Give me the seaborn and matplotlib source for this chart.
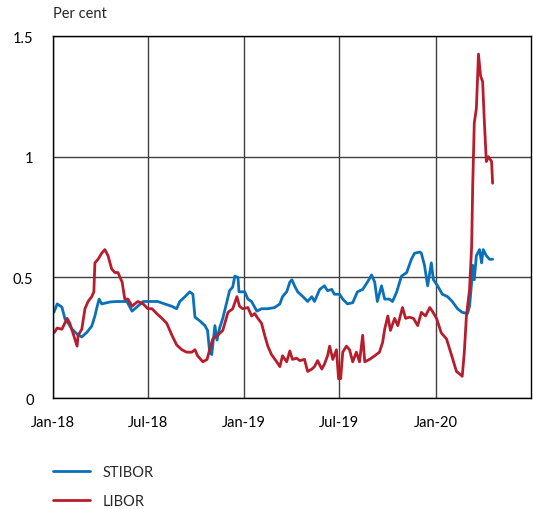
import pandas as pd
import matplotlib.pyplot as plt
import seaborn as sns

# values (per cent)
stibor_dates = [
    "2018-01-03", "2018-01-09", "2018-01-18", "2018-01-24", "2018-01-30", "2018-02-06",
    "2018-02-16", "2018-02-25", "2018-03-07", "2018-03-16", "2018-03-22", "2018-03-26",
    "2018-03-30", "2018-04-04", "2018-04-20", "2018-05-03", "2018-05-22", "2018-06-01",
    "2018-06-10", "2018-06-22", "2018-07-01", "2018-07-20", "2018-08-02", "2018-08-16",
    "2018-08-25", "2018-08-31", "2018-09-10", "2018-09-19", "2018-09-25", "2018-09-29",
    "2018-10-08", "2018-10-18", "2018-10-23", "2018-10-27", "2018-10-31", "2018-11-06",
    "2018-11-10", "2018-11-15", "2018-11-21", "2018-11-29", "2018-12-04", "2018-12-10",
    "2018-12-14", "2018-12-20", "2018-12-22", "2019-01-02", "2019-01-08", "2019-01-15",
    "2019-01-25", "2019-02-03", "2019-02-15", "2019-02-28", "2019-03-10", "2019-03-15",
    "2019-03-23", "2019-03-29", "2019-04-02", "2019-04-07", "2019-04-13", "2019-04-23",
    "2019-05-02", "2019-05-10", "2019-05-15", "2019-05-25", "2019-06-03", "2019-06-09",
    "2019-06-17", "2019-06-22", "2019-07-02", "2019-07-08", "2019-07-17", "2019-07-27",
    "2019-08-05", "2019-08-15", "2019-08-24", "2019-09-01", "2019-09-07", "2019-09-12",
    "2019-09-20", "2019-09-26", "2019-10-05", "2019-10-11", "2019-10-19", "2019-10-28",
    "2019-11-07", "2019-11-16", "2019-11-22", "2019-12-02", "2019-12-05", "2019-12-11",
    "2019-12-17", "2019-12-24", "2019-12-28", "2020-01-05", "2020-01-14", "2020-01-24",
    "2020-02-02", "2020-02-12", "2020-02-21", "2020-03-02", "2020-03-06", "2020-03-10",
    "2020-03-12", "2020-03-15", "2020-03-19", "2020-03-25", "2020-03-29", "2020-04-01",
    "2020-04-07", "2020-04-13", "2020-04-19",
]
stibor = [
    0.356, 0.39, 0.377, 0.327, 0.31, 0.286,
    0.265, 0.253, 0.273, 0.298, 0.34, 0.377,
    0.41, 0.39, 0.398, 0.40, 0.40, 0.36,
    0.377, 0.40, 0.40, 0.40, 0.39, 0.38,
    0.37, 0.40, 0.42, 0.44, 0.43, 0.335,
    0.32, 0.30, 0.28, 0.19, 0.18, 0.30,
    0.24, 0.29, 0.33, 0.40, 0.445, 0.46,
    0.505, 0.50, 0.44, 0.44, 0.41, 0.40,
    0.36, 0.37, 0.37, 0.375, 0.39, 0.42,
    0.44, 0.48, 0.49, 0.465, 0.44, 0.42,
    0.40, 0.42, 0.40, 0.45, 0.465, 0.445,
    0.45, 0.43, 0.43, 0.41, 0.39, 0.395,
    0.44, 0.45, 0.48, 0.51, 0.48, 0.40,
    0.465, 0.41, 0.41, 0.40, 0.44, 0.505,
    0.52, 0.575, 0.60, 0.605, 0.60, 0.55,
    0.465, 0.56, 0.49, 0.465, 0.43, 0.42,
    0.40, 0.37, 0.355, 0.35, 0.38, 0.48,
    0.55, 0.49, 0.59, 0.615, 0.56, 0.615,
    0.59, 0.575, 0.575,
]

libor_dates = [
    "2018-01-03", "2018-01-09", "2018-01-18", "2018-01-28", "2018-02-02", "2018-02-08",
    "2018-02-16", "2018-02-18", "2018-02-25", "2018-03-03", "2018-03-09", "2018-03-16",
    "2018-03-20", "2018-03-22", "2018-03-28", "2018-04-04", "2018-04-10", "2018-04-16",
    "2018-04-23", "2018-04-29", "2018-05-05", "2018-05-13", "2018-05-18", "2018-05-24",
    "2018-06-01", "2018-06-06", "2018-06-12", "2018-06-22", "2018-07-01", "2018-07-09",
    "2018-07-18", "2018-07-28", "2018-08-06", "2018-08-16", "2018-08-25", "2018-09-04",
    "2018-09-13", "2018-09-23", "2018-09-29", "2018-10-04", "2018-10-14", "2018-10-22",
    "2018-10-27", "2018-11-02", "2018-11-11", "2018-11-21", "2018-12-01", "2018-12-10",
    "2018-12-18", "2018-12-23", "2018-12-29", "2019-01-08", "2019-01-15", "2019-01-21",
    "2019-01-27", "2019-02-03", "2019-02-09", "2019-02-15", "2019-02-22", "2019-03-04",
    "2019-03-10", "2019-03-15", "2019-03-23", "2019-03-29", "2019-04-03", "2019-04-11",
    "2019-04-17", "2019-04-26", "2019-05-02", "2019-05-10", "2019-05-15", "2019-05-21",
    "2019-05-29", "2019-06-03", "2019-06-09", "2019-06-13", "2019-06-19", "2019-06-26",
    "2019-06-30", "2019-07-04", "2019-07-08", "2019-07-15", "2019-07-21", "2019-07-27",
    "2019-08-03", "2019-08-09", "2019-08-15", "2019-08-19", "2019-08-28", "2019-09-07",
    "2019-09-16", "2019-09-22", "2019-09-26", "2019-10-02", "2019-10-07", "2019-10-15",
    "2019-10-21", "2019-10-30", "2019-11-05", "2019-11-12", "2019-11-20", "2019-11-28",
    "2019-12-05", "2019-12-13", "2019-12-21", "2019-12-26", "2020-01-03", "2020-01-12",
    "2020-01-22", "2020-02-01", "2020-02-10", "2020-02-16", "2020-02-21", "2020-02-25",
    "2020-02-29", "2020-03-06", "2020-03-10", "2020-03-12", "2020-03-15", "2020-03-19",
    "2020-03-23", "2020-03-27", "2020-03-31", "2020-04-03", "2020-04-07", "2020-04-11",
    "2020-04-17", "2020-04-19",
]
libor = [
    0.27, 0.29, 0.285, 0.33, 0.31, 0.27,
    0.215, 0.26, 0.285, 0.37, 0.40, 0.42,
    0.44, 0.56, 0.575, 0.60, 0.615, 0.59,
    0.535, 0.52, 0.52, 0.48, 0.41, 0.41,
    0.38, 0.39, 0.40, 0.39, 0.37, 0.37,
    0.35, 0.33, 0.31, 0.26, 0.22, 0.20,
    0.19, 0.19, 0.20, 0.175, 0.15, 0.16,
    0.20, 0.245, 0.26, 0.28, 0.355, 0.37,
    0.42, 0.38, 0.37, 0.375, 0.34, 0.35,
    0.33, 0.31, 0.26, 0.215, 0.18, 0.15,
    0.13, 0.175, 0.15, 0.195, 0.16, 0.165,
    0.155, 0.16, 0.11, 0.12, 0.13, 0.155,
    0.12, 0.14, 0.175, 0.215, 0.16, 0.20,
    0.08, 0.08, 0.19, 0.215, 0.20, 0.15,
    0.19, 0.15, 0.26, 0.15, 0.16, 0.175,
    0.19, 0.23, 0.285, 0.34, 0.28, 0.33,
    0.30, 0.375, 0.33, 0.335, 0.33, 0.30,
    0.355, 0.34, 0.375, 0.36, 0.33, 0.27,
    0.245, 0.175, 0.11, 0.10, 0.09, 0.19,
    0.34, 0.45, 0.63, 0.88, 1.14, 1.20,
    1.425, 1.335, 1.31, 1.155, 0.98, 1.0,
    0.98, 0.89,
]

tick_dates = ["2018-01-01", "2018-07-01", "2019-01-01", "2019-07-01", "2020-01-01"]
tick_labels = ["Jan-18", "Jul-18", "Jan-19", "Jul-19", "Jan-20"]
y_ticks = [0, 0.5, 1, 1.5]
y_labels = ["0", "0.5", "1", "1.5"]

df_s = pd.DataFrame({"date": pd.to_datetime(stibor_dates), "value": stibor})
df_l = pd.DataFrame({"date": pd.to_datetime(libor_dates), "value": libor})

sns.set_theme(style="white")
plt.rcParams["font.family"] = ["Lato", "DejaVu Sans"]

fig = plt.figure(figsize=(5.33, 5.10), dpi=100)
ax = fig.add_axes([0.0994, 0.2176, 0.8966, 0.7098])

sns.lineplot(data=df_s, x="date", y="value", ax=ax, color="#0a70b8",
             linewidth=2.0, label="STIBOR")
sns.lineplot(data=df_l, x="date", y="value", ax=ax, color="#b81d2c",
             linewidth=2.0, label="LIBOR")

ax.set_xlim(pd.Timestamp("2018-01-01"), pd.Timestamp("2020-07-01"))
ax.set_ylim(0, 1.5)
ax.set_xticks(pd.to_datetime(tick_dates))
ax.set_xticklabels(tick_labels)
ax.set_yticks(y_ticks)
ax.set_yticklabels(y_labels)
ax.tick_params(axis="both", length=0, labelsize=10.5, colors="black")
ax.tick_params(axis="x", pad=12)
ax.tick_params(axis="y", pad=14)
ax.set_xlabel("")
ax.set_ylabel("")

ax.grid(True, color="#404040", linewidth=1.0)
ax.set_axisbelow(True)
for sp in ax.spines.values():
    sp.set_visible(True)
    sp.set_color("black")
    sp.set_linewidth(1.0)

ax.text(0, 1.064, "Per cent", transform=ax.transAxes, ha="left", va="center",
        fontsize=10.5)

# legend sits under the plot, stacked
ax.get_legend().remove()
h, l = ax.get_legend_handles_labels()
fig.legend(h, l, loc="upper left", bbox_to_anchor=(0.1, 0.086), frameon=False,
           fontsize=10.5, handlelength=2.5, handletextpad=0.9, labelspacing=1.0,
           borderaxespad=0, borderpad=0)

fig.savefig("out.png", dpi=100)
